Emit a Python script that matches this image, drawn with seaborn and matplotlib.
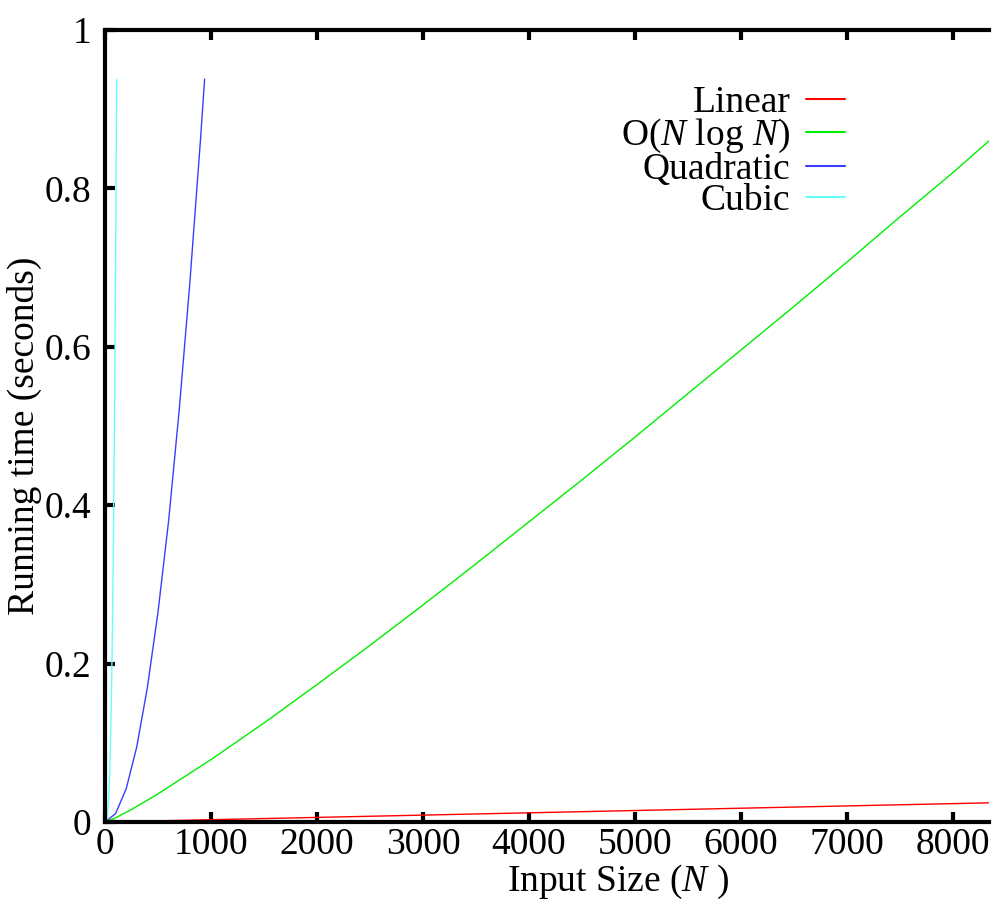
import numpy as np
import pandas as pd
import matplotlib
matplotlib.use("Agg")
import matplotlib.pyplot as plt
import seaborn as sns

# running time samples
linear_n = [0, 1000, 2000, 3000, 4000, 5000, 6000, 7000, 8000, 8340]
linear_t = [0.0, 0.0029, 0.0058, 0.0087, 0.0116, 0.0145, 0.0174, 0.0203, 0.0232, 0.0242]

nlogn_n = [0, 100, 250, 500, 1000, 1500, 2000, 2500, 3000, 3500, 4000, 4500,
           5000, 5500, 6000, 6500, 7000, 7500, 8000, 8340]
nlogn_t = [0.0, 0.0053, 0.0158, 0.0355, 0.0788, 0.125, 0.1735, 0.223, 0.274, 0.326,
           0.379, 0.432, 0.486, 0.541, 0.596, 0.651, 0.707, 0.764, 0.820, 0.860]

quad_n = [0, 100, 200, 300, 400, 500, 600, 700, 800, 900, 940]
quad_t = [0.0, 0.0106, 0.042, 0.095, 0.17, 0.265, 0.38, 0.52, 0.68, 0.86, 0.938]

cubic_n = [0, 10, 20, 30, 40, 50, 60, 70, 80, 90, 100, 110]
cubic_t = [0.0, 0.0007, 0.0056, 0.019, 0.045, 0.088, 0.152, 0.242, 0.361, 0.514, 0.705, 0.938]

labels = ["Linear", "O($N$ log $N$)", "Quadratic", "Cubic"]
colors = ["#ff0000", "#00ee00", "#3c3cff", "#66ffff"]

frames = []
for lab, n, t in zip(labels, [linear_n, nlogn_n, quad_n, cubic_n],
                     [linear_t, nlogn_t, quad_t, cubic_t]):
    frames.append(pd.DataFrame({"N": n, "t": t, "series": lab}))
df = pd.concat(frames, ignore_index=True)

sns.set_theme(style="ticks")
plt.rcParams['font.family'] = ['Liberation Serif', 'DejaVu Serif']
plt.rcParams['mathtext.fontset'] = 'custom'
plt.rcParams['mathtext.rm'] = 'Liberation Serif'
plt.rcParams['mathtext.it'] = 'Liberation Serif:italic'
plt.rcParams['text.color'] = 'black'
plt.rcParams['axes.labelcolor'] = 'black'
fs = 27

fig = plt.figure(figsize=(9.94, 9.07), dpi=100)
ax = fig.add_axes([105 / 994, 1 - 822 / 907, 884 / 994, 792 / 907])

sns.lineplot(data=df, x="N", y="t", hue="series", palette=colors,
             hue_order=labels, linewidth=1.0, ax=ax, legend=False, sort=False)

ax.set_xlim(0, 8340)
ax.set_ylim(0, 1)
ax.set_xticks(range(0, 8001, 1000))
ax.set_yticks([0, 0.2, 0.4, 0.6, 0.8, 1])
ax.set_yticklabels(["0", "0.2", "0.4", "0.6", "0.8", "1"])

for side in ["left", "bottom", "top"]:
    ax.spines[side].set_linewidth(3)
    ax.spines[side].set_color("black")
ax.spines["right"].set_visible(False)
ax.tick_params(axis="both", direction="in", length=7, width=3,
               labelsize=fs, colors="black", top=True, right=False)
ax.tick_params(axis="x", pad=4)
ax.tick_params(axis="y", pad=10)

ax.set_xlabel("Input Size ($N$ )", fontsize=fs)
ax.set_ylabel("Running time (seconds)", fontsize=fs)
ax.xaxis.set_label_coords((618 - 105) / 884, -0.052)
ax.yaxis.set_label_coords(-0.071, 0.487)

handles = [plt.Line2D([], [], color=c, linewidth=1.5) for c in colors]
ax.legend(handles, labels, loc="upper right", bbox_to_anchor=(0.837, 0.93),
          frameon=False, markerfirst=False, handlelength=1.05, handletextpad=0.4,
          labelspacing=-0.08, borderpad=0, borderaxespad=0, fontsize=fs)
for txt in ax.get_legend().get_texts():
    txt.set_ha("right")
    txt.set_color("black")

fig.savefig("out.png", dpi=100, facecolor="white")
